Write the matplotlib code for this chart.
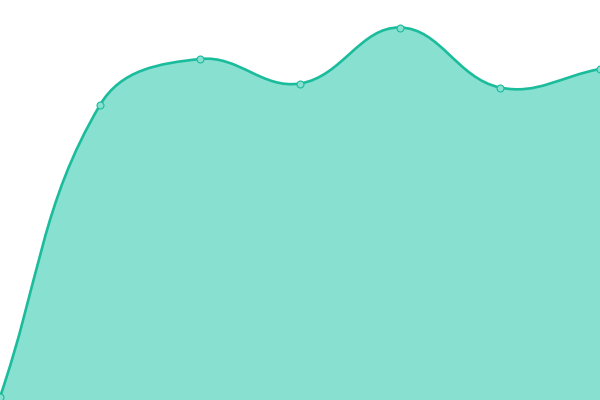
import matplotlib
matplotlib.use("Agg")
import matplotlib.pyplot as plt
import numpy as np
from matplotlib.path import Path
from matplotlib.patches import PathPatch

categories = ["A", "B", "C", "D", "E", "F", "G"]
values = [3, 295, 341, 316.5, 372.5, 312.5, 331]

LINE = "#1abc9c"
FILL = "#88e0d0"
TENSION = 0.4

fig = plt.figure(figsize=(6, 4), dpi=100)
ax = fig.add_axes([0, 0, 1, 1])
ax.set_xlim(0, len(categories) - 1)
ax.set_ylim(0, 400)
ax.axis("off")

xs = np.arange(len(categories), dtype=float)
pts = ax.transData.transform(np.column_stack([xs, values]))

def spline(prev, cur, nxt, t):
    d01 = np.hypot(*(cur - prev))
    d12 = np.hypot(*(nxt - cur))
    tot = d01 + d12
    s01 = d01 / tot if tot else 0
    s12 = d12 / tot if tot else 0
    return cur - t * s01 * (nxt - prev), cur + t * s12 * (nxt - prev)

n = len(pts)
cps = []
for i in range(n):
    prev = pts[i - 1] if i > 0 else pts[i]
    nxt = pts[i + 1] if i < n - 1 else pts[i]
    cps.append(spline(prev, pts[i], nxt, TENSION))

verts = [pts[0]]
codes = [Path.MOVETO]
for i in range(n - 1):
    verts += [cps[i][1], cps[i + 1][0], pts[i + 1]]
    codes += [Path.CURVE4] * 3
inv = ax.transData.inverted()
dverts = inv.transform(np.array(verts))

fill_verts = list(dverts) + [[xs[-1], 0], [xs[0], 0], dverts[0]]
fill_codes = codes + [Path.LINETO, Path.LINETO, Path.CLOSEPOLY]
ax.add_patch(PathPatch(Path(fill_verts, fill_codes), facecolor=FILL, edgecolor="none"))
ax.add_patch(PathPatch(Path(dverts, codes), facecolor="none", edgecolor=LINE, linewidth=1.9))

ax.plot(xs, values, linestyle="none", marker="o", markersize=5,
        markerfacecolor=FILL, markeredgecolor=LINE, markeredgewidth=0.8, clip_on=False)

fig.savefig("out.png", dpi=100)
